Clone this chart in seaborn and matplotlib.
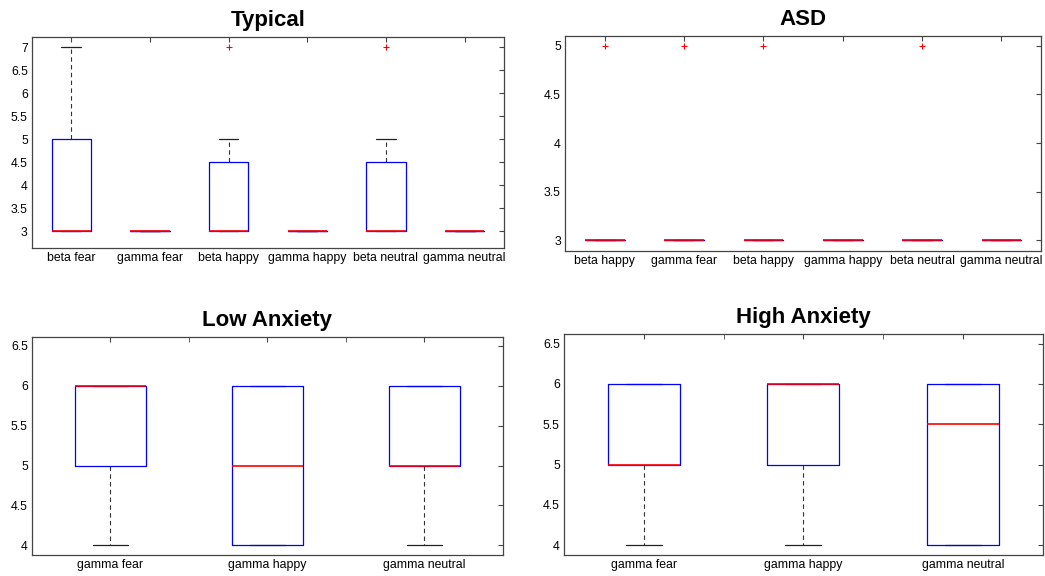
"""Recreate the 2x2 MATLAB-style boxplot figure (Typical / ASD / Low / High Anxiety)."""

import matplotlib

matplotlib.use("Agg")
import matplotlib.colors as mcolors
import matplotlib.pyplot as plt
import pandas as pd
import seaborn as sns

# --- data -------------------------------------------------------------------
typical_labels = ["beta fear", "gamma fear", "beta happy",
                  "gamma happy", "beta neutral", "gamma neutral"]
typical_values = [
    [3, 3, 3, 3, 5, 5, 7],
    [3, 3, 3, 3, 3, 3, 3],
    [3, 3, 3, 3, 4, 5, 7],
    [3, 3, 3, 3, 3, 3, 3],
    [3, 3, 3, 3, 4, 5, 7],
    [3, 3, 3, 3, 3, 3, 3],
]

asd_labels = ["beta happy", "gamma fear", "beta happy",
              "gamma happy", "beta neutral", "gamma neutral"]
asd_values = [
    [3, 3, 3, 3, 3, 3, 5],
    [3, 3, 3, 3, 3, 3, 5],
    [3, 3, 3, 3, 3, 3, 5],
    [3, 3, 3, 3, 3, 3, 3],
    [3, 3, 3, 3, 3, 3, 5],
    [3, 3, 3, 3, 3, 3, 3],
]

low_labels = ["gamma fear", "gamma happy", "gamma neutral"]
low_values = [
    [4, 5, 5, 6, 6, 6, 6],
    [4, 4, 4, 5, 6, 6, 6],
    [4, 5, 5, 5, 6, 6, 6],
]

high_labels = ["gamma fear", "gamma happy", "gamma neutral"]
high_values = [
    [4, 5, 5, 5, 6, 6, 6],
    [4, 5, 5, 6, 6, 6, 6],
    [4, 4, 4, 5, 6, 6, 6, 6],
]

BLUE = "#0000ff"
RED = "#ff0000"
FONT = ["Liberation Sans", "DejaVu Sans"]


def long_form(values):
    rows = []
    for i, vals in enumerate(values):
        rows += [{"grp": i, "val": v} for v in vals]
    return pd.DataFrame(rows)


def draw(ax, title, labels, values, width, ylim, yticks, half_ticks):
    df = long_form(values)
    sns.boxplot(
        data=df, x="grp", y="val", ax=ax, width=width, fill=False,
        whis=1.5,
        boxprops=dict(color=BLUE, linewidth=0.9),
        medianprops=dict(color=RED, linewidth=1.2),
        whiskerprops=dict(color="#333333", linewidth=0.8,
                          linestyle=(0, (4, 3))),
        capprops=dict(color="#222222", linewidth=0.9),
        flierprops=dict(marker="+", markeredgecolor=RED, markerfacecolor=RED,
                        markersize=5, markeredgewidth=0.8),
    )
    # MATLAB draws median on top of box, box on top of whiskers/caps
    red = mcolors.to_rgba(RED)
    blue = mcolors.to_rgba(BLUE)
    for line in ax.lines:
        c = mcolors.to_rgba(line.get_color())
        if c == red:
            line.set_zorder(5)
        elif c == blue:
            line.set_zorder(4)
        else:
            line.set_zorder(2)

    n = len(labels)
    ax.set_xlim(-0.5, n - 0.5)
    ax.set_ylim(*ylim)
    ax.set_xticks(range(n), labels, fontsize=8.8, family=FONT, color="black")
    ax.set_yticks(yticks, [f"{t:g}" for t in yticks], fontsize=8.8,
                  family=FONT, color="black")
    if half_ticks:
        ax.set_xticks([i + 0.5 for i in range(n - 1)], minor=True)
    ax.tick_params(which="both", direction="in", top=True, right=True,
                   length=3.5, color="#444444", pad=3)
    ax.set_xlabel("")
    ax.set_ylabel("")
    ax.set_title(title, fontsize=16, fontweight="bold", family=FONT,
                 color="black", pad=8)
    for sp in ax.spines.values():
        sp.set_color("#444444")
        sp.set_linewidth(0.9)


def main() -> None:
    sns.set_style("white")
    fig = plt.figure(figsize=(10.45, 5.76), dpi=100)

    ax1 = fig.add_axes([0.0306, 0.5694, 0.4517, 0.3663])
    ax2 = fig.add_axes([0.5407, 0.5642, 0.4555, 0.3733])
    ax3 = fig.add_axes([0.0306, 0.0365, 0.4507, 0.3785])
    ax4 = fig.add_axes([0.5397, 0.0365, 0.4580, 0.3837])

    draw(ax1, "Typical", typical_labels, typical_values, 0.5,
         (2.63, 7.22), [3, 3.5, 4, 4.5, 5, 5.5, 6, 6.5, 7], False)
    draw(ax2, "ASD", asd_labels, asd_values, 0.5,
         (2.89, 5.1), [3, 3.5, 4, 4.5, 5], False)
    draw(ax3, "Low Anxiety", low_labels, low_values, 0.45,
         (3.88, 6.61), [4, 4.5, 5, 5.5, 6, 6.5], True)
    draw(ax4, "High Anxiety", high_labels, high_values, 0.45,
         (3.88, 6.62), [4, 4.5, 5, 5.5, 6, 6.5], True)

    fig.savefig("out.png", dpi=100, facecolor="white")
    plt.close(fig)


if __name__ == "__main__":
    main()
